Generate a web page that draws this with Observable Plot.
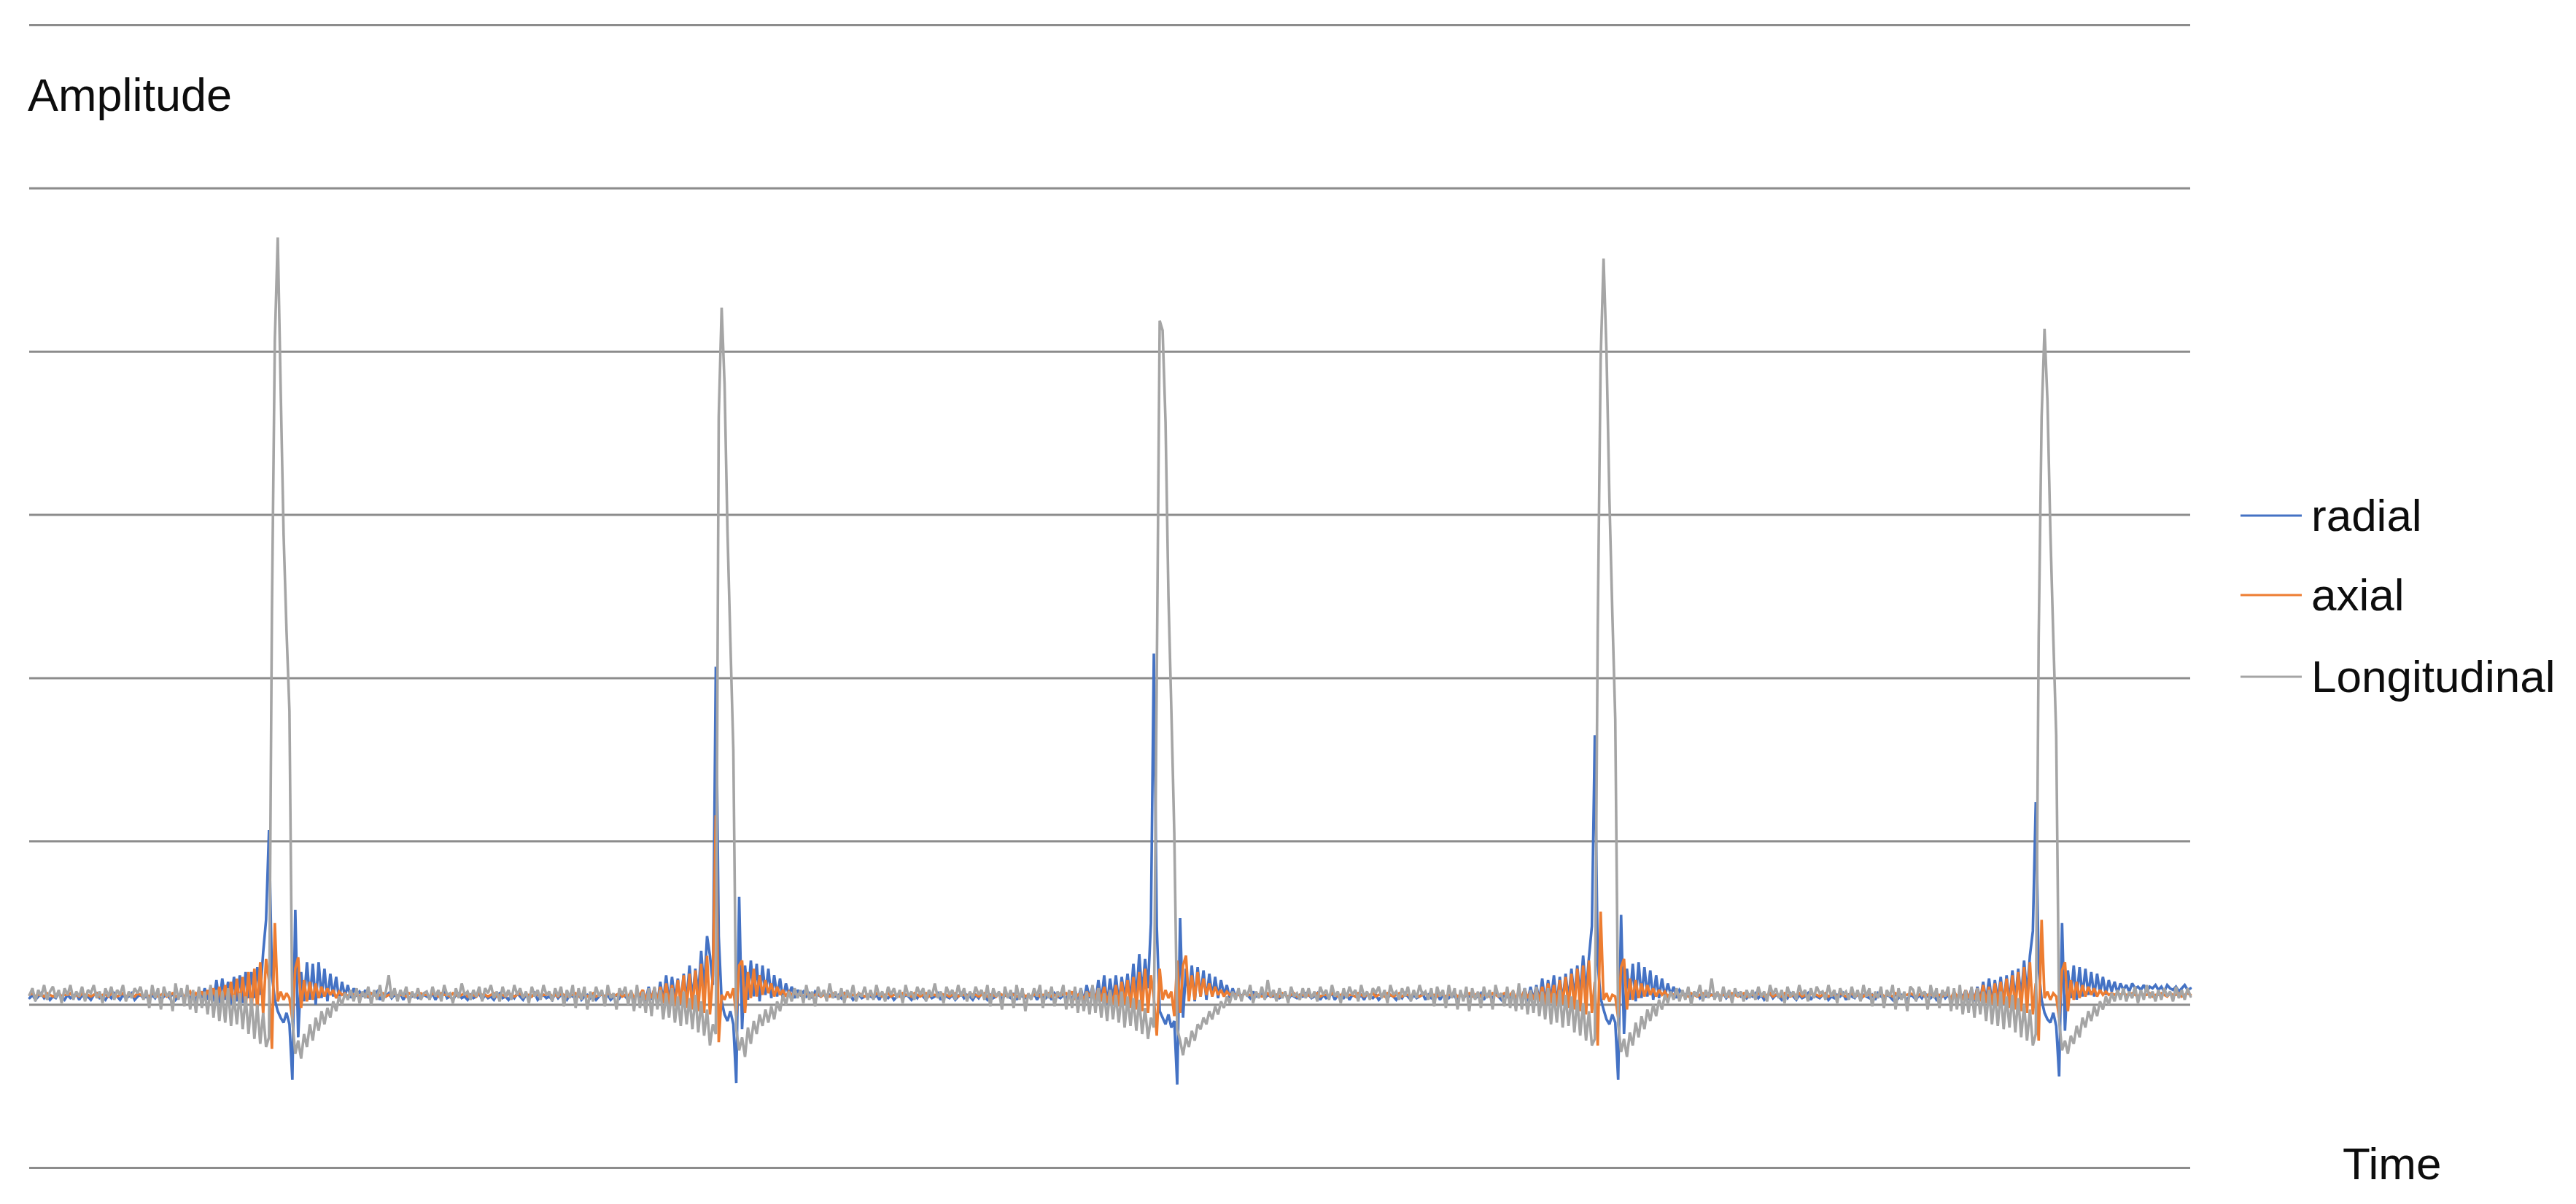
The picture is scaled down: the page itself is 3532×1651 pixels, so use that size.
<!DOCTYPE html>
<html><head><meta charset="utf-8">
<script src="https://cdn.jsdelivr.net/npm/d3@7"></script>
<script src="https://cdn.jsdelivr.net/npm/@observablehq/plot@0.6"></script>
<style>
html,body{margin:0;padding:0;background:#fff;overflow:hidden}
#chart{position:relative;width:3532px;height:1651px}
#overlay{position:absolute;left:0;top:0;pointer-events:none}
</style></head><body><div id="chart"></div>
<script>
const seriesNames = ["radial", "axial", "Longitudinal"];
const seriesColors = ["#4472C4", "#ED7D31", "#A5A5A5"];
const yTicks = [-1, 0, 1, 2, 3, 4, 5, 6];
const yLabel = "Amplitude";
const xLabel = "Time";

// amplitude values in hundredths, one value per time sample
const radial = [
// quiet
4,6,3,5,7,4,6,3,5,4, 7,5,3,6,4,5,7,3,6,4, 5,3,6,7,4,5,3,6,4,7, 5,3,6,4,5,7,3,5,6,4,
// pulse 1
5,3,6,4,7,3,5,6,4,7,3,5, 6,4,8,3,7,2,9,4,10,3,11,2, 15,1,16,3,14,0,17,2,18,1,20,4,
20,4,23,6,32,52,107,18,3,-4,-8,-11, -5,-12,-46,58,-20,20,2,26,3,25,0,26,
4,22,2,19,5,17,3,14,5,12,4,10, 6,8,5,9,4,7,6,8,3,6,5,7, 4,6,5,7,3,6,4,5,6,4,5,6,
// quiet
5,4,7,3,6,5,8,4, 5,3,6,7,4,5,3,6, 4,5,7,3,6,4,5,3, 6,7,4,5,3,6,4,7, 5,3,6,4,5,7,3,5, 6,4,5,3,7,4,6,5, 3,6,5,4,7,3,5,6,
// pulse 2
4,6,3,5,7,4,6,3,5,6,4,7, 5,3,7,2,8,4,9,2,11,3,10,1, 14,2,18,1,17,3,16,0,19,2,24,3,
22,6,33,8,42,30,12,207,42,2,-6,-10, -4,-12,-48,66,-15,24,3,27,5,25,2,24,
6,22,4,18,5,16,3,13,6,11,4,9, 6,8,5,7,4,8,6,5,7,4,6,5, 5,6,4,7,5,6,3,5,6,4,5,6,
// quiet
5,4,6,3,7,5,4,6,3, 5,7,4,6,5,3,6,4,7, 5,3,6,4,5,7,3,6,5, 4,6,3,5,7,4,6,5,3, 6,4,7,5,3,6,4,5,7, 3,6,5,4,7,3,6,5,4,
// pulse 3
5,4,7,3,6,5,4,6,3,7,5,4, 6,3,8,2,9,3,10,2,12,4,11,1, 15,2,18,0,16,3,18,1,17,4,19,2,
25,3,31,6,28,10,50,215,48,-4,-8,-12, -6,-14,-10,-49,53,-8,22,4,24,2,23,5,
21,3,19,5,17,4,15,6,12,4,10,5, 8,5,7,6,4,8,5,6,7,4,6,5, 5,6,4,5,7,3,6,5,4,6,5,7,
// quiet
6,4,5,7,3,6,4,5, 7,3,6,5,4,7,3,6, 5,4,6,3,7,5,4,6, 3,5,7,4,6,5,3,6, 4,7,5,3,6,4,5,7, 3,6,4,5,7,3,6,5, 4,6,5,3,7,4,6,5,
// pulse 4
6,4,5,7,3,6,5,4,7,5,3,6, 5,3,8,2,9,3,10,2,11,3,12,2, 16,1,15,3,18,0,17,2,19,3,22,4,
24,5,30,7,29,48,165,25,4,-3,-9,-12, -6,-11,-46,55,-18,22,3,25,2,26,4,23,
5,21,3,18,4,16,5,13,6,11,4,9, 7,6,8,5,6,7,4,6,5,7,6,5, 6,5,7,4,6,5,6,7,5,6,4,6,
// quiet
5,7,4,6,3,5,7,4,6,5,3, 6,4,7,5,3,6,4,5,7,3,6, 5,4,6,7,3,5,4,6,5,7,3, 6,5,4,7,3,6,5,4,6,3,7, 5,4,6,5,3,7,4,6,5,3,6,
// pulse 5
5,3,6,4,7,5,4,6,3,5,7,4, 6,3,7,2,8,4,9,3,10,2,11,3, 14,2,16,1,15,3,17,0,18,2,21,3,
22,4,27,6,30,45,124,22,3,-5,-9,-11, -5,-13,-44,50,-16,21,4,24,3,23,5,22,
6,20,5,19,7,17,6,15,8,14,7,13, 9,12,8,13,10,11,9,12,8,11,10,12, 9,11,8,12,10,9,11,8,10,12,9,10
];

const axial = [
// quiet
6,7,5,6,6,5,7,6,5,6, 7,5,6,6,7,5,6,5,7,6, 6,5,6,7,5,6,6,5,7,6, 5,6,7,5,6,6,5,7,6,5,
// pulse 1
6,5,7,6,5,6,7,5,6,7,5,6, 7,5,6,8,4,7,5,8,4,9,3,10, 2,11,0,12,1,14,-1,16,0,17,-2,20,
-4,22,-3,26,-6,28,15,-27,50,2,8,3, 7,4,-9,22,29,-2,15,2,14,3,13,4,
11,5,10,6,9,4,8,6,7,5,7,6, 6,5,7,6,5,7,6,5,6,7,5,6, 6,7,5,6,6,5,7,6,5,6,7,6,
// quiet
6,5,7,6,5,7,6,6, 5,7,6,5,6,7,5,6, 6,5,7,6,6,5,6,7, 5,6,6,5,7,6,5,6, 7,5,6,6,5,7,6,5, 6,6,7,5,6,5,7,6, 5,6,6,7,5,6,6,5,
// pulse 2
6,7,5,6,6,5,7,6,5,6,7,5, 6,5,8,4,7,6,9,3,8,4,10,2, 11,1,13,0,12,-1,15,0,18,-2,19,-3,
21,-4,25,-5,30,-6,18,116,-23,6,3,8, 4,10,-7,24,27,-5,20,4,22,5,18,6,
15,7,13,5,11,6,9,5,8,6,7,6, 6,5,7,6,5,6,7,5,6,6,5,7, 6,5,6,7,5,6,6,5,7,6,5,6,
// quiet
6,5,7,6,5,6,7,5,6, 6,5,7,6,6,5,7,6,5, 6,7,5,6,6,5,7,6,6, 5,6,7,5,6,6,5,7,6, 6,5,6,7,5,6,6,5,7, 6,6,5,7,6,5,6,7,5,
// pulse 3
6,5,6,7,5,6,6,7,5,6,5,7, 6,7,5,8,4,6,7,3,8,5,9,3, 10,2,11,1,9,0,12,-1,14,0,15,-2,
17,-3,20,-4,22,-5,18,4,-19,22,3,9, 4,8,-7,27,-5,24,30,2,18,3,20,5,
16,6,13,5,11,6,9,5,8,6,7,6, 6,5,7,6,6,5,7,6,5,6,7,5, 6,6,5,7,6,5,6,7,5,6,6,5,
// quiet
6,5,6,7,5,6,6,5, 7,6,5,6,7,5,6,6, 5,7,6,5,6,6,7,5, 6,6,5,7,6,5,6,7, 5,6,6,5,7,6,5,6, 7,5,6,6,5,7,6,5, 6,6,7,5,6,5,6,7,
// pulse 4
5,6,7,5,6,6,5,7,6,5,6,7, 5,6,8,4,7,5,9,4,8,3,10,2, 11,0,13,1,12,-1,15,0,17,-2,19,-3,
22,-4,24,-6,27,-5,14,-25,57,3,7,2, 6,5,-8,23,28,-3,16,3,15,4,13,5,
12,6,10,5,9,6,8,5,7,6,7,5, 6,6,5,7,6,5,6,7,6,5,6,6, 7,5,6,6,5,7,6,5,6,7,5,6,
// quiet
6,5,7,6,5,6,7,5,6,6,5, 7,6,5,6,6,7,5,6,5,7,6, 6,5,6,7,5,6,6,5,7,6,5, 6,7,5,6,6,5,7,6,6,5,6, 7,5,6,6,5,7,6,5,6,6,7,
// pulse 5
6,5,6,7,5,6,7,5,6,6,5,7, 6,4,8,5,7,3,9,4,8,3,10,2, 12,1,11,0,13,-1,14,0,16,-2,18,-3,
20,-4,23,-5,26,-6,13,-22,52,4,8,3, 7,5,-8,21,26,-4,15,3,14,4,12,5,
11,6,10,5,9,6,8,6,7,6,7,6, 7,6,6,7,6,5,7,6,6,7,5,6, 6,7,6,5,7,6,6,7,5,6,7,6
];

const longitudinal = [
// quiet
6,10,2,9,5,12,3,8,11,4, 9,1,10,6,12,3,8,5,11,2, 9,7,12,4,8,1,10,5,11,3, 9,6,12,2,8,4,10,7,11,3,
// pulse 1
9,-2,12,4,10,-3,11,5,8,-4,13,3, 10,-1,12,-3,9,-5,11,-2,8,-6,12,-8, 9,-10,8,-11,10,-13,6,-12,7,-15,5,-18,
4,-21,0,-24,-5,-26,-20,240,407,470,377,288, 229,180,-10,-30,-22,-33,-18,-26,-12,-22,-8,-16,
-4,-12,-2,-8,2,-4,5,0,7,3,9,2, 10,1,8,4,11,0,9,3,12,2,8,18, 4,10,2,9,5,11,1,8,4,10,3,7,
// quiet
8,3,11,5,9,2,12,6, 7,1,10,4,13,6,8,3, 9,5,11,2,10,7,12,4, 8,2,11,5,9,3,12,6, 10,4,8,1,11,5,9,3, 12,6,8,2,10,5,11,-1, 9,4,12,-2,10,3,11,-3,
// pulse 2
8,2,11,5,9,-1,12,4,7,-3,10,6, 11,0,9,-4,12,-2,8,-5,10,-7,11,-3, 9,-9,7,-8,10,-11,5,-13,8,-12,4,-15,
6,-17,2,-19,-3,-25,-12,-18,360,427,380,290, 222,156,-15,-28,-20,-32,-14,-24,-10,-18,-6,-13,
-3,-11,-1,-9,2,-4,6,0,8,2,10,4, 9,1,12,3,8,-1,11,5,9,2,13,4, 8,3,10,1,9,4,12,2,7,5,11,3,
// quiet
9,3,12,5,8,2,11,6,10, 4,9,1,12,5,8,3,11,6, 10,2,9,5,13,4,8,1,11, 6,9,3,12,5,10,2,8,4, 11,6,9,3,12,-1,10,5,8, -3,11,4,9,-2,12,3,10,-4,
// pulse 3
7,3,10,5,12,-2,9,4,11,-1,8,5, 12,-3,9,-2,11,-5,10,-4,8,-6,12,-5, 10,-8,7,-10,9,-9,6,-11,8,-14,5,-13,
4,-16,3,-18,-2,-21,-8,-14,200,419,413,357, 250,180,105,-15,-22,-31,-20,-26,-16,-22,-12,-15,
-8,-12,-4,-9,-1,-6,2,-2,5,1,8,3, 10,2,9,5,12,1,8,4,11,3,15,5, 9,2,10,4,8,1,11,5,7,3,10,4,
// quiet
10,4,8,2,11,6,9,3, 12,5,8,1,10,4,11,6, 9,2,12,5,8,3,10,7, 11,4,9,1,12,6,8,3, 10,5,11,2,9,4,12,6, 8,3,10,-1,11,5,9,-2, 12,4,10,-3,9,2,11,-4,
// pulse 4
10,3,8,-2,11,4,9,-3,12,5,7,-1, 11,-2,9,-4,13,-3,10,-6,9,-5,11,-7, 8,-9,10,-12,7,-11,9,-14,6,-13,5,-17,
3,-19,1,-22,-4,-25,-21,230,395,457,400,310, 240,175,-12,-29,-21,-32,-17,-25,-11,-20,-7,-15,
-3,-10,0,-7,3,-3,6,1,8,3,10,2, 9,3,11,0,8,5,12,2,9,4,16,3, 8,2,11,4,9,1,10,5,8,2,9,4,
// quiet
9,3,11,5,8,2,12,6,10,4,9, 1,11,5,8,3,12,6,9,2,10,4, 11,7,8,3,12,5,9,1,10,6,8, 3,11,4,9,2,12,5,10,-1,8,4, 11,-2,9,5,12,-3,10,3,8,-4,11,
// pulse 5
9,2,11,6,8,-3,12,4,10,-2,9,5, 11,-4,10,-3,12,-6,9,-5,11,-8,10,-6, 8,-10,9,-12,7,-13,8,-15,5,-14,6,-17,
4,-20,0,-22,-3,-25,-18,225,360,414,370,290, 225,165,-10,-28,-22,-30,-19,-24,-13,-20,-8,-14,
-4,-10,-1,-7,2,-3,5,0,7,2,9,3, 10,2,8,4,11,1,9,3,12,4,8,2, 9,3,10,5,8,2,11,4,9,3,10,5
];

const seriesValues = [radial, axial, longitudinal];
const rows = seriesValues.map((arr, j) => arr.map((v, i) => ({t: i, v: v / 100, series: seriesNames[j]})));

const plot = Plot.plot({
  width: 3532, height: 1651,
  marginLeft: 40, marginRight: 529, marginTop: 34, marginBottom: 50,
  x: {domain: [0, 740], axis: null},
  y: {domain: [-1, 6], axis: null},
  color: {domain: seriesNames, range: seriesColors},
  style: {background: "#fff"},
  marks: [
    Plot.ruleY(yTicks, {stroke: "#8c8c8c", strokeWidth: 3}),
    ...rows.map(d => Plot.line(d, {x: "t", y: "v", stroke: "series", strokeWidth: 3.6, strokeLinejoin: "miter", strokeMiterlimit: 2}))
  ]
});
document.getElementById("chart").appendChild(plot);

const svg = d3.select("#chart").append("svg").attr("id", "overlay")
  .attr("width", 3532).attr("height", 1651)
  .style("font-family", "'Liberation Sans', Arial, sans-serif")
  .style("font-size", "63px").attr("fill", "#0d0d0d");
svg.append("text").attr("x", 38).attr("y", 152).text(yLabel);
svg.append("text").attr("x", 3212).attr("y", 1617).style("font-size", "62px").text(xLabel);
const legendY = [707, 816, 928];
seriesNames.forEach((s, j) => {
  svg.append("line").attr("x1", 3072).attr("x2", 3156)
    .attr("y1", legendY[j]).attr("y2", legendY[j])
    .attr("stroke", seriesColors[j]).attr("stroke-width", 3);
  svg.append("text").attr("x", 3169).attr("y", legendY[j] + 21).style("font-size", "62px").text(s);
});
</script></body></html>
